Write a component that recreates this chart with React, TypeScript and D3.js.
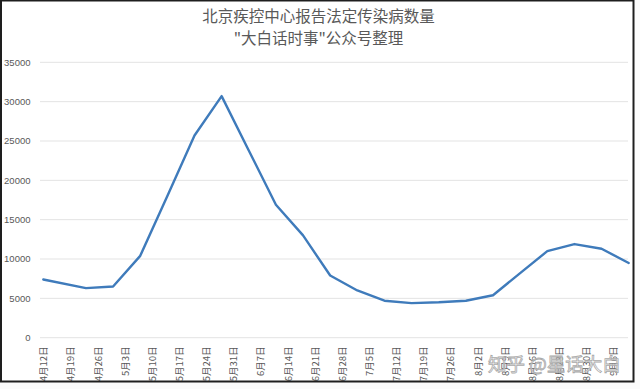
import { useEffect, useRef } from 'react';
import * as d3 from 'd3';

// weekly report points (first one is the 4/12 baseline)
const pointDates = [
  '2020-04-12', '2020-04-23', '2020-04-30', '2020-05-07', '2020-05-14', '2020-05-21',
  '2020-05-28', '2020-06-04', '2020-06-11', '2020-06-18', '2020-06-25', '2020-07-02',
  '2020-07-09', '2020-07-16', '2020-07-23', '2020-07-30', '2020-08-06', '2020-08-13',
  '2020-08-20', '2020-08-27', '2020-09-03', '2020-09-10',
];
const caseCounts = [
  7400, 6300, 6500, 10400, 18000, 25700, 30700, 23800, 16900, 13000, 7900,
  6000, 4700, 4400, 4500, 4700, 5400, 8200, 11000, 11900, 11300, 9500,
];
const xTickLabels = [
  '4月12日', '4月19日', '4月26日', '5月3日', '5月10日', '5月17日', '5月24日', '5月31日',
  '6月7日', '6月14日', '6月21日', '6月28日', '7月5日', '7月12日', '7月19日', '7月26日',
  '8月2日', '8月9日', '8月16日', '8月23日', '8月30日', '9月6日',
];
const yTicks = [0, 5000, 10000, 15000, 20000, 25000, 30000, 35000];
const titleLines = ['北京疾控中心报告法定传染病数量', '"大白话时事"公众号整理'];
const watermark = '知乎 @星话大白';

const W = 640;
const H = 389;
const FRAME = { x: 1, y: 0.5, w: 632.5, h: 381 };
const PLOT = { left: 43.3, right: 628.7, top: 62.3, bottom: 337.7 };
const GRID = { x1: 40, x2: 628 };

const parseDate = d3.timeParse('%Y-%m-%d');
const labelDate = (s: string) => {
  const m = s.match(/(\d+)月(\d+)日/);
  return new Date(2020, +m![1] - 1, +m![2]);
};

export default function App() {
  const ref = useRef<SVGSVGElement>(null);

  useEffect(() => {
    if (!ref.current) return;
    const svg = d3.select(ref.current);
    svg.selectAll('*').remove();

    const data = pointDates.map((d, i) => ({ date: parseDate(d)!, value: caseCounts[i] }));

    const x = d3.scaleTime()
      .domain([data[0].date, data[data.length - 1].date])
      .range([PLOT.left, PLOT.right]);
    const y = d3.scaleLinear().domain([0, 35000]).range([PLOT.bottom, PLOT.top]);

    svg.append('rect').attr('width', W).attr('height', H).attr('fill', '#fbfbfb');

    svg.append('clipPath').attr('id', 'frame-clip')
      .append('rect')
      .attr('x', FRAME.x).attr('y', FRAME.y)
      .attr('width', FRAME.w).attr('height', FRAME.h);

    const g = svg.append('g').attr('clip-path', 'url(#frame-clip)');
    g.append('rect')
      .attr('x', FRAME.x).attr('y', FRAME.y)
      .attr('width', FRAME.w).attr('height', FRAME.h)
      .attr('fill', '#ffffff');

    // title
    g.append('g')
      .selectAll('text')
      .data(titleLines)
      .join('text')
      .attr('x', 318.5)
      .attr('y', (_, i) => 15 + i * 21.5)
      .attr('text-anchor', 'middle')
      .attr('dominant-baseline', 'central')
      .attr('font-family', '"Noto Sans CJK SC", sans-serif')
      .attr('font-size', 15.5)
      .attr('fill', '#595959')
      .text((d) => d);

    // gridlines
    g.append('g')
      .selectAll('line')
      .data(yTicks)
      .join('line')
      .attr('x1', GRID.x1).attr('x2', GRID.x2)
      .attr('y1', (d) => y(d)).attr('y2', (d) => y(d))
      .attr('stroke', '#e3e3e3')
      .attr('stroke-width', 1);

    // y labels
    g.append('g')
      .selectAll('text')
      .data(yTicks)
      .join('text')
      .attr('x', 30.5)
      .attr('y', (d) => y(d))
      .attr('dy', '0.35em')
      .attr('text-anchor', 'end')
      .attr('font-family', '"Liberation Sans", Arial, sans-serif')
      .attr('font-size', 9.5)
      .attr('fill', '#595959')
      .text((d) => String(d));

    // x labels, rotated
    g.append('g')
      .selectAll('text')
      .data(xTickLabels)
      .join('text')
      .attr('transform', (d) => `translate(${x(labelDate(d))},346.5) rotate(-90)`)
      .attr('text-anchor', 'end')
      .attr('dominant-baseline', 'central')
      .attr('font-family', '"Noto Sans CJK SC", sans-serif')
      .attr('font-size', 9.5)
      .attr('fill', '#595959')
      .text((d) => d);

    const line = d3.line<{ date: Date; value: number }>()
      .x((d) => x(d.date))
      .y((d) => y(d.value));

    g.append('path')
      .datum(data)
      .attr('fill', 'none')
      .attr('stroke', '#3f7bbb')
      .attr('stroke-width', 2.4)
      .attr('stroke-linejoin', 'round')
      .attr('stroke-linecap', 'round')
      .attr('d', line);

    // watermark
    g.append('text')
      .attr('x', 488)
      .attr('y', 363)
      .attr('dominant-baseline', 'central')
      .attr('font-family', '"Noto Sans CJK SC", sans-serif')
      .attr('font-size', 18.5)
      .attr('fill', '#ffffff')
      .attr('fill-opacity', 0.6)
      .attr('stroke', '#a9a9a9')
      .attr('stroke-width', 0.8)
      .text(watermark);

    svg.append('rect')
      .attr('x', FRAME.x).attr('y', FRAME.y)
      .attr('width', FRAME.w).attr('height', FRAME.h)
      .attr('fill', 'none')
      .attr('stroke', '#1e1e1e')
      .attr('stroke-width', 2);
  }, []);

  return (
    <svg
      ref={ref}
      width={W}
      height={H}
      viewBox={`0 0 ${W} ${H}`}
      style={{ position: 'absolute', left: 0, top: 0, display: 'block' }}
    />
  );
}
